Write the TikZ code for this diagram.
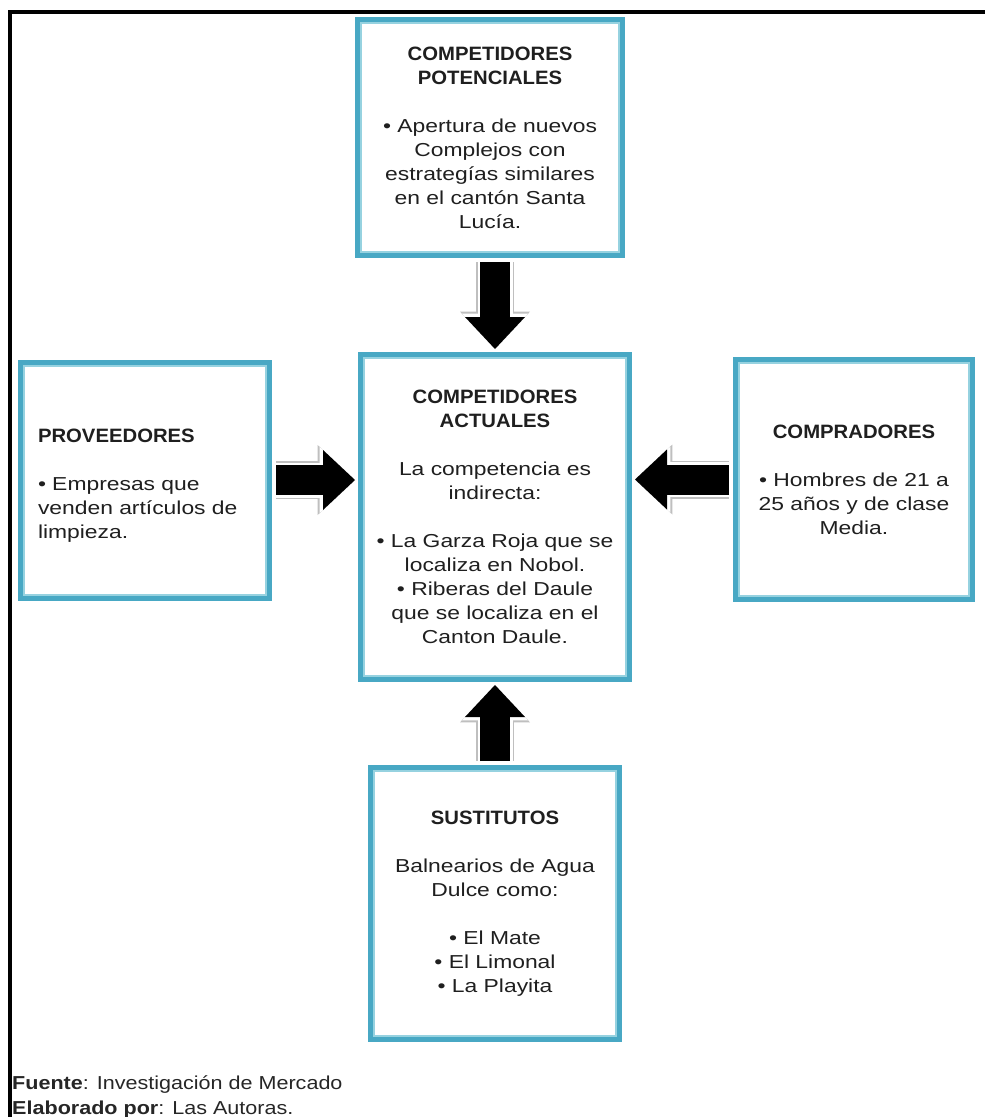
\documentclass[tikz,border=0pt]{standalone}
\usepackage{fontspec}
\usepackage{tikz}
\setmainfont[FakeStretch=1.15]{Liberation Sans}
\newfontfamily\boxFamily[FakeStretch=1.22]{Liberation Sans}
\newfontfamily\headFamily[FakeStretch=1.05]{Liberation Sans}
\usetikzlibrary{arrows.meta}
\tikzstyle{sheet} = [x = 0.03cm, y = -0.03cm]
\definecolor{frameTeal}{RGB}{72,168,196}
\definecolor{innerTeal}{RGB}{150,210,224}
\newcommand{\px}{0.03cm}
\newcommand{\bodyFont}{\boxFamily\fontsize{16}{20.5}\selectfont\mdseries}
\newcommand{\titleFont}{\headFamily\fontsize{16.5}{21.3}\selectfont\bfseries}
\newcommand{\titleGap}{\\[0.72cm]\bodyFont}
\newcommand{\blankLine}{\\[20.5pt]}
\tikzstyle{forceBox} = [draw=frameTeal, line width=6*\px, fill=white, inner sep=0pt, align=center,
  text=black!88, font=\bodyFont]
\tikzset{boxSize/.style 2 args={minimum width=#1*\px, minimum height=#2*\px}}
\tikzstyle{innerLine} = [draw=innerTeal, line width=2*\px]
\tikzstyle{frameLine} = [draw=black, line width=4*\px]
\tikzstyle{arrowEdge} = [draw=black!25, line width=38*\px,
  -{Triangle[width=2.1cm, length=1.12cm, line width=0pt]}]
\tikzstyle{arrowHalo} = [draw=white, line width=35*\px,
  -{Triangle[width=1.98cm, length=1.06cm, line width=0pt]}, preaction={arrowEdge}]
\tikzstyle{forceArrow} = [draw=black, line width=30*\px, shorten <=4*\px, shorten >=3*\px,
  -{Triangle[width=1.8cm, length=0.96cm, line width=0pt]}, preaction={arrowHalo}]
\tikzstyle{noteText} = [anchor=base west, inner sep=0pt, font=\fontsize{16}{20.5}\selectfont, text=black!85]

\begin{document}
\begin{tikzpicture}[sheet]
  \useasboundingbox (0,0) rectangle (985,1117);
  \draw [frameLine] (10,1130) -- (10,12) -- (990,12);

  % the five forces
  \node [forceBox, boxSize={264}{235}] (potenciales) at (490,137.5)
    {\titleFont COMPETIDORES\\\titleFont POTENCIALES\titleGap
     • Apertura de nuevos\\Complejos con\\estrategías similares\\en el cantón Santa\\Lucía.};
  \node [forceBox, boxSize={268}{324}] (actuales) at (495,517)
    {\titleFont COMPETIDORES\\\titleFont ACTUALES\titleGap
     La competencia es\\indirecta:\blankLine
     • La Garza Roja que se\\localiza en Nobol.\\• Riberas del Daule\\que se localiza en el\\Canton Daule.};
  \node [forceBox, boxSize={248}{235}, align=left, text width=214*\px] (proveedores) at (145,480)
    {\mbox{}\\\titleFont PROVEEDORES\titleGap
     • Empresas que\\venden artículos de\\limpieza.};
  \node [forceBox, boxSize={236}{239}] (compradores) at (854,479.5)
    {\titleFont COMPRADORES\titleGap
     • Hombres de 21 a\\25 años y de clase\\Media.};
  \node [forceBox, boxSize={248}{271}] (sustitutos) at (495,903.5)
    {\titleFont SUSTITUTOS\titleGap
     Balnearios de Agua\\Dulce como:\blankLine
     • El Mate\\• El Limonal\\• La Playita};

  \foreach \forceName in {potenciales,actuales,proveedores,compradores,sustitutos} {
    \draw [innerLine] ([shift={(6,6)}]\forceName.north west) rectangle ([shift={(-6,-6)}]\forceName.south east);
  }

  % arrows into the centre
  \draw [forceArrow] (actuales.north |- potenciales.south) -- (actuales.north);
  \draw [forceArrow] (proveedores.east) -- (proveedores.east -| actuales.west);
  \draw [forceArrow] (compradores.west) -- (compradores.west -| actuales.east);
  \draw [forceArrow] (sustitutos.north) -- (sustitutos.north |- actuales.south);

  \node [noteText] (fuente) at (12,1089) {\textbf{Fuente}: Investigación de Mercado};
  \node [noteText] (autoras) at (12,1114) {\textbf{Elaborado por}: Las Autoras.};
\end{tikzpicture}
\end{document}
